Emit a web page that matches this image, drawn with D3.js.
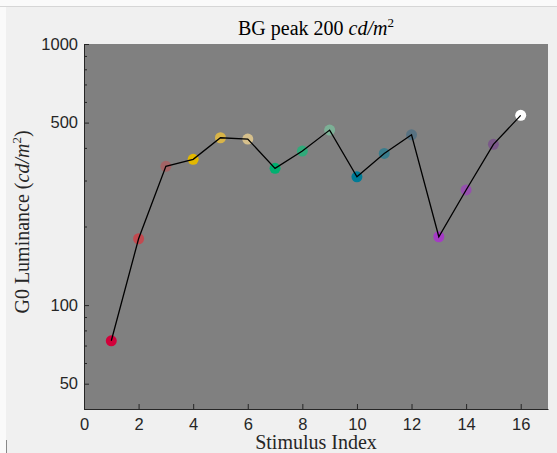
<!DOCTYPE html>
<html><head><meta charset="utf-8">
<script src="https://cdn.jsdelivr.net/npm/d3@7"></script>
<style>html,body{margin:0;padding:0;background:#f0f0f0;}svg{display:block;}</style>
</head><body>
<svg id="c" width="557" height="453"></svg>
<script>
const stimIndex = [1,2,3,4,5,6,7,8,9,10,11,12,13,14,15,16];
const luminance = [73.0,179.5,340,361.6,437.5,432.5,334,389,468,310,381,449,182.7,276,412.7,533];
const pointColors = ["#d2003a","#c24a50","#a26466","#e2b800","#d8b448","#d6c08c","#00b070","#30aa7a","#7cb096","#007b96","#3a7c8c","#587282","#a43cc4","#9550ad","#7a5889","#ffffff"];
const xTicks = [0,2,4,6,8,10,12,14,16];
const yTicks = [50,100,500,1000];
const yMinor = [40,60,70,80,90,200,300,400,600,700,800,900];

const svg = d3.select("#c");
// window frame
svg.append("rect").attr("x",0).attr("y",0).attr("width",557).attr("height",453).attr("fill","#f0f0f0");
svg.append("rect").attr("x",0).attr("y",0).attr("width",557).attr("height",6).attr("fill","#fafafa");
svg.append("rect").attr("x",0).attr("y",0).attr("width",6).attr("height",453).attr("fill","#fafafa");
svg.append("line").attr("x1",0).attr("x2",557).attr("y1",6.5).attr("y2",6.5).attr("stroke","#d6d6d6");
svg.append("line").attr("x1",6.5).attr("x2",6.5).attr("y1",440).attr("y2",453).attr("stroke","#888");

const L=84,R=548,T=44,B=409;
const x = d3.scaleLinear().domain([0,17]).range([L,R]);
const y = d3.scaleLog().domain([40,1000]).range([B,T]);

svg.append("rect").attr("x",L).attr("y",T).attr("width",R-L).attr("height",B-T).attr("fill","#808080");

// x axis
const xa = svg.append("g").attr("transform",`translate(0,${B})`)
  .call(d3.axisBottom(x).tickValues(xTicks).tickSizeInner(-5).tickSizeOuter(0).tickPadding(9));
// y axis
const ya = svg.append("g").attr("transform",`translate(${L},0)`)
  .call(d3.axisLeft(y).tickValues(yTicks).tickFormat(d3.format("d")).tickSizeInner(-5).tickSizeOuter(0).tickPadding(6));
svg.append("g").attr("transform",`translate(${L},0)`)
  .call(d3.axisLeft(y).tickValues(yMinor).tickFormat("").tickSizeInner(-3).tickSizeOuter(0))
  .call(g=>g.select(".domain").remove());
svg.selectAll("g.tick line").attr("stroke","#262626");
[xa,ya].forEach(a=>{
  a.select(".domain").attr("stroke","#262626");
  a.selectAll("text").attr("font-family","Liberation Sans, Arial, sans-serif").attr("font-size",16.5).attr("fill","#262626");
});

// points
svg.append("g").selectAll("circle").data(stimIndex).join("circle")
  .attr("cx",(d)=>x(d)).attr("cy",(d,i)=>y(luminance[i])).attr("r",5.5)
  .attr("fill",(d,i)=>pointColors[i]);
// line on top
svg.append("path").datum(stimIndex.map((s,i)=>[s,luminance[i]]))
  .attr("fill","none").attr("stroke","#000").attr("stroke-width",1.3)
  .attr("d",d3.line().x(d=>x(d[0])).y(d=>y(d[1])));

const serif = "Liberation Serif, Times New Roman, serif";
// title
const t = svg.append("text").attr("x",(L+R)/2).attr("y",35).attr("text-anchor","middle")
  .attr("font-family",serif).attr("font-size",20).attr("fill","#000");
t.append("tspan").text("BG peak 200 ");
t.append("tspan").attr("font-style","italic").text("cd/m");
t.append("tspan").attr("font-size",13).attr("dy",-8).text("2");
// x label
svg.append("text").attr("x",(L+R)/2).attr("y",449).attr("text-anchor","middle")
  .attr("font-family",serif).attr("font-size",20).attr("fill","#262626").text("Stimulus Index");
// y label
const yl = svg.append("text").attr("transform","translate(29,222) rotate(-90)").attr("text-anchor","middle")
  .attr("font-family",serif).attr("font-size",20).attr("fill","#262626");
yl.append("tspan").text("G0 Luminance (");
yl.append("tspan").attr("font-style","italic").text("cd/m");
yl.append("tspan").attr("font-size",13).attr("dy",-8).text("2");
yl.append("tspan").attr("dy",8).text(")");
</script>
</body></html>
